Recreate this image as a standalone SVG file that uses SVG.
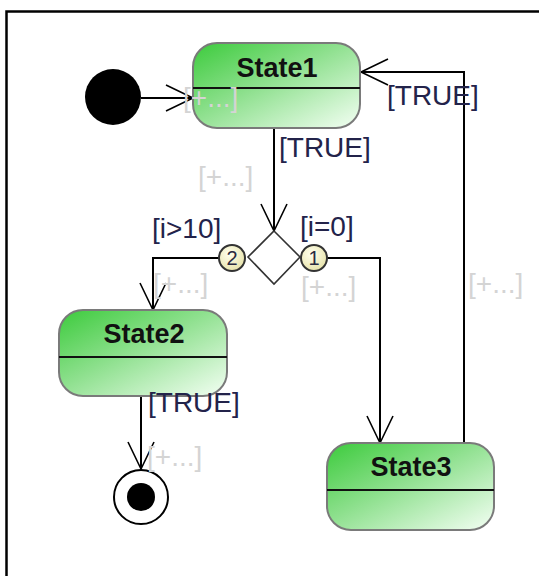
<svg xmlns="http://www.w3.org/2000/svg" width="539" height="576" viewBox="0 0 539 576">
<defs>
<linearGradient id="g" x1="0" y1="0" x2="1" y2="1">
<stop offset="0" stop-color="#3ccb3c"/>
<stop offset="0.45" stop-color="#8ee08e"/>
<stop offset="1" stop-color="#f4fff4"/>
</linearGradient>
<radialGradient id="y" cx="0.4" cy="0.35" r="0.7">
<stop offset="0" stop-color="#ffffee"/>
<stop offset="1" stop-color="#e6e2a8"/>
</radialGradient>
<marker id="arr" markerUnits="userSpaceOnUse" markerWidth="40" markerHeight="40" viewBox="-30 -20 40 40" refX="0" refY="0" orient="auto">
<path d="M-27,-13 L0,0 L-27,13" fill="none" stroke="#000" stroke-width="1.6"/>
</marker>
</defs>
<style>
.st{stroke:#7a7a7a;stroke-width:2;fill:url(#g)}
.dv{stroke:#111;stroke-width:2}
.sn{font-family:"Liberation Sans",Arial,sans-serif;font-weight:bold;font-size:27px;fill:#111;text-anchor:middle}
.lb{font-family:"Liberation Sans",Arial,sans-serif;font-size:28px;fill:#23234a}
.ph{font-family:"Liberation Sans",Arial,sans-serif;font-size:28px;fill:#d4d4d4}
.cn{fill:none;stroke:#000;stroke-width:2;marker-end:url(#arr)}
.num{font-family:"Liberation Sans",Arial,sans-serif;font-size:20px;fill:#2a2a40;text-anchor:middle}
</style>
<rect width="539" height="576" fill="#fff"/>
<path d="M6.5,576 V11.5 H539" fill="none" stroke="#000" stroke-width="2.5"/>

<g id="connectors">
<path class="cn" d="M141,98 H193"/>
<path class="cn" d="M274,128 V231"/>
<path class="cn" d="M219,258 H153 V310"/>
<path class="cn" d="M327,258 H380 V443"/>
<path class="cn" d="M141,396 V469"/>
<path class="cn" d="M464,443 V72 H361"/>
</g>

<g id="initial">
<circle cx="113" cy="97" r="28" fill="#000"/>
</g>

<g id="State1">
<rect class="st" x="193" y="43" width="167" height="85" rx="24" ry="24"/>
<line class="dv" x1="193" y1="88" x2="360" y2="88"/>
<text class="sn" x="277" y="77">State1</text>
</g>

<g id="State2">
<rect class="st" x="59" y="310" width="168" height="86" rx="24" ry="24"/>
<line class="dv" x1="59" y1="357" x2="227" y2="357"/>
<text class="sn" x="144" y="343">State2</text>
</g>

<g id="State3">
<rect class="st" x="327" y="443" width="167" height="87" rx="24" ry="24"/>
<line class="dv" x1="327" y1="490" x2="494" y2="490"/>
<text class="sn" x="411" y="476">State3</text>
</g>

<g id="decision">
<polygon points="274,231 300,257 274,284 248,257" fill="#fff" stroke="#333" stroke-width="1.6"/>
<circle cx="232" cy="258" r="13" fill="url(#y)" stroke="#333" stroke-width="2"/>
<text class="num" x="232" y="265">2</text>
<circle cx="314" cy="258" r="13" fill="url(#y)" stroke="#333" stroke-width="2"/>
<text class="num" x="314" y="265">1</text>
</g>

<g id="final">
<circle cx="141" cy="497" r="27" fill="#fff" stroke="#000" stroke-width="2"/>
<circle cx="141" cy="497" r="14" fill="#000"/>
</g>

<g id="labels">
<text class="lb" x="387" y="105">[TRUE]</text>
<text class="lb" x="279" y="157">[TRUE]</text>
<text class="lb" x="152" y="238">[i&gt;10]</text>
<text class="lb" x="300" y="236">[i=0]</text>
<text class="lb" x="148" y="412">[TRUE]</text>
<text class="ph" x="183" y="107">[+...]</text>
<text class="ph" x="198" y="186">[+...]</text>
<text class="ph" x="153" y="293">[+...]</text>
<text class="ph" x="301" y="296">[+...]</text>
<text class="ph" x="468" y="293">[+...]</text>
<text class="ph" x="147" y="466">[+...]</text>
</g>
</svg>
